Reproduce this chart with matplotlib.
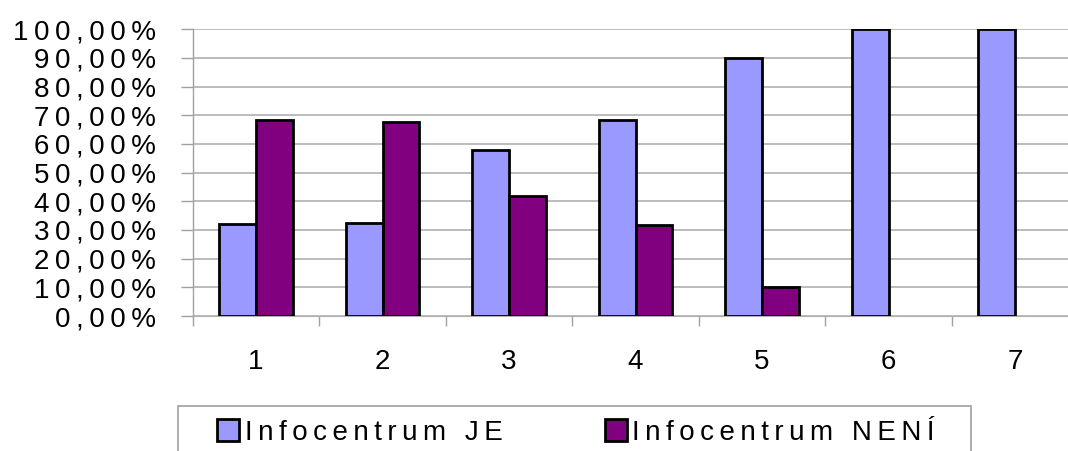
import matplotlib
matplotlib.use("Agg")
import matplotlib.pyplot as plt
from matplotlib.patches import Rectangle
import numpy as np

plt.rcParams['font.family'] = ['Liberation Sans', 'DejaVu Sans']

# ---- data ----
categories = ["1", "2", "3", "4", "5", "6", "7"]
series_names = ["Infocentrum JE", "Infocentrum NENÍ"]
je_values = [0.32, 0.325, 0.58, 0.683, 0.90, 1.00, 1.00]
neni_values = [0.683, 0.675, 0.42, 0.317, 0.10, 0.0, 0.0]
y_ticks = [0.0, 0.1, 0.2, 0.3, 0.4, 0.5, 0.6, 0.7, 0.8, 0.9, 1.0]
y_tick_labels = ["0,00%", "10,00%", "20,00%", "30,00%", "40,00%", "50,00%",
                 "60,00%", "70,00%", "80,00%", "90,00%", "100,00%"]

colors = ["#9999FF", "#800080"]
SP = "\u2009"
FS = 20


def spaced(s):
    return SP.join(s)


W, H = 1068, 451
fig = plt.figure(figsize=(W / 100, H / 100), dpi=100)

left_px = 192.75
step_px = 126.5
right_px = left_px + 7 * step_px
ax = fig.add_axes([left_px / W, (H - 316) / H, (right_px - left_px) / W, (316 - 29.3) / H])

x = np.arange(1, len(categories) + 1)
bw = 0.292
b1 = ax.bar(x - bw / 2, je_values, width=bw, color=colors[0], edgecolor="black",
            linewidth=2.0, label=spaced(series_names[0]), zorder=3)
b2 = ax.bar(x + bw / 2, neni_values, width=bw, color=colors[1], edgecolor="black",
            linewidth=2.0, label=spaced(series_names[1]), zorder=3)
for p in list(b1.patches) + list(b2.patches):
    if p.get_height() == 0:
        p.set_visible(False)

ax.set_xlim(0.5, len(categories) + 0.5)
ax.set_ylim(0, 1.0)

# y axis
ax.set_yticks(y_ticks)
ax.set_yticklabels([spaced(s) for s in y_tick_labels], fontsize=FS)
ax.tick_params(axis='y', direction='out', length=8.6, width=1, color="#a0a0a0", pad=18)
ax.yaxis.grid(True, color="#b0b0b0", linewidth=1.2, zorder=0)
ax.set_axisbelow(True)

# x axis: ticks at category boundaries, labels at centres
ax.set_xticks(np.arange(0.5, len(categories) + 1, 1.0))
ax.set_xticklabels([])
ax.tick_params(axis='x', which='major', direction='out', length=7, width=1, color="#a0a0a0")
ax.set_xticks(x, minor=True)
ax.set_xticklabels(categories, minor=True, fontsize=FS)
ax.tick_params(axis='x', which='minor', length=0, pad=24)

for s in ["top", "right"]:
    ax.spines[s].set_visible(False)
ax.spines["left"].set_color("#a0a0a0")
ax.spines["bottom"].set_color("#b0b0b0")
ax.spines["left"].set_linewidth(1)

# legend
frame = Rectangle((178 / W, -0.05), (971 - 178) / W, (H - 406) / H + 0.05,
                  transform=fig.transFigure, facecolor="white", edgecolor="#a0a0a0",
                  linewidth=1.2, zorder=0)
fig.patches.append(frame)
fig.legend(handles=[b1, b2], loc="upper left",
           bbox_to_anchor=(217 / W, (H - 424) / H, (935 - 217) / W, 0.01),
           mode="expand", ncol=2, frameon=False, fontsize=FS,
           borderpad=0, borderaxespad=0, handlelength=0.8, handleheight=0.8,
           handletextpad=0.2)

fig.savefig("out.png", dpi=100)
